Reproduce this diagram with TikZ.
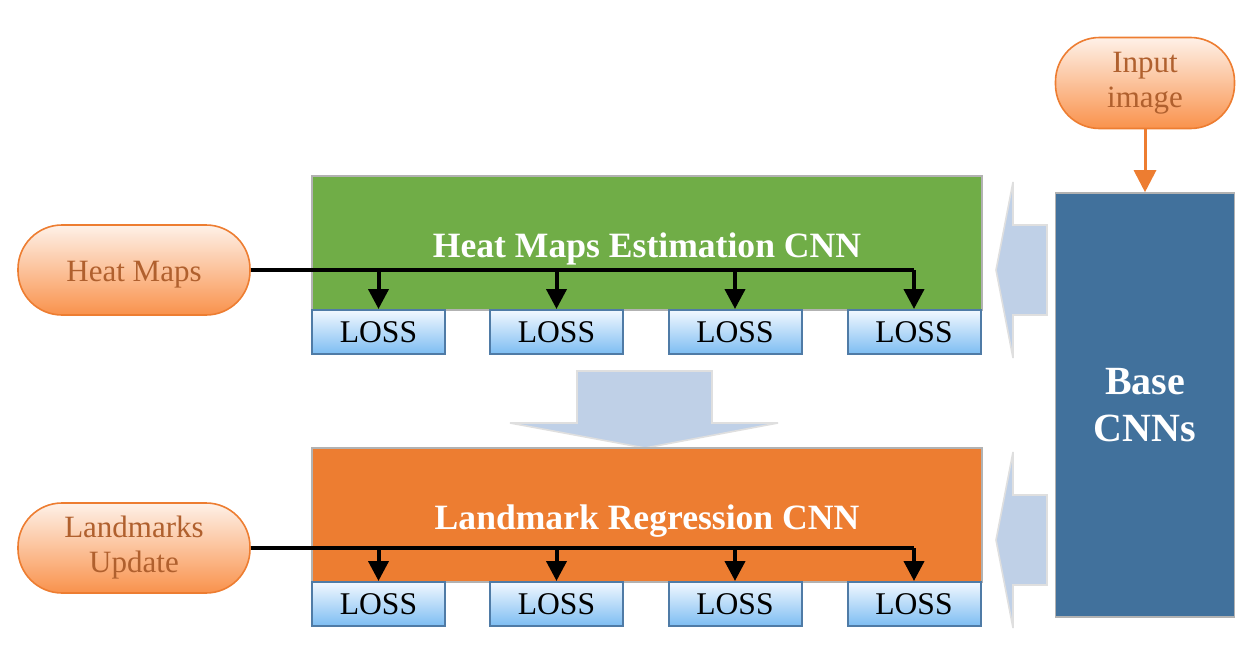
\documentclass[tikz,border=0pt]{standalone}
\usepackage{fontspec}
\setmainfont{Liberation Serif}
\usetikzlibrary{arrows.meta}

\begin{document}
\begin{tikzpicture}[x=0.5pt,y=-0.5pt]

	% Colours
	\definecolor{heatcolor}{HTML}{70AD47}
	\definecolor{regcolor}{HTML}{ED7D31}
	\definecolor{basecolor}{HTML}{41719C}
	\definecolor{losstop}{HTML}{F2F8FF}
	\definecolor{lossbot}{HTML}{7DBDF2}
	\definecolor{lossedge}{HTML}{4F7BA6}
	\definecolor{pilltop}{HTML}{FEF1E8}
	\definecolor{pillbot}{HTML}{F9924C}
	\definecolor{pilltext}{HTML}{B0602E}
	\definecolor{arrowblue}{HTML}{BFD0E7}
	\colorlet{pilledge}{regcolor}

	% Styles
	\tikzstyle{stagebox}=[draw=gray!60, line width=0.8pt, minimum width=335pt, minimum height=67pt,
		inner sep=0pt, text height=14pt, text depth=0pt, text=white,
		font=\fontsize{17.8}{20}\selectfont\bfseries]
	\tikzstyle{lossbox}=[draw=lossedge, line width=1pt, top color=losstop, bottom color=lossbot,
		minimum width=66.5pt, minimum height=22pt, inner sep=0pt, font=\fontsize{15.8}{17}\selectfont]
	\tikzstyle{pill}=[draw=pilledge, line width=0.8pt, top color=pilltop, bottom color=pillbot,
		rounded corners=22pt, minimum width=116pt, minimum height=45pt, align=center,
		text=pilltext, font=\fontsize{15.5}{17.5}\selectfont]
	\tikzstyle{blockarrow}=[fill=arrowblue, draw=gray!25, line width=0.8pt]
	\tikzstyle{bus}=[line width=2pt]
	\tikzstyle{drop}=[line width=2pt, -{Triangle[width=10pt,length=10pt]}]
	\tikzstyle{feed}=[draw=regcolor, line width=1.5pt, -{Triangle[width=11pt,length=11pt]}]

	\useasboundingbox (0,0) rectangle (1248,648);

	% Block arrows
	\draw[blockarrow] (996,270) -- (1013,182) -- (1013,225) -- (1047,225) -- (1047,315)
		-- (1013,315) -- (1013,358) -- cycle;
	\draw[blockarrow] (996,540) -- (1013,452) -- (1013,495) -- (1047,495) -- (1047,585)
		-- (1013,585) -- (1013,628) -- cycle;
	\draw[blockarrow] (577,371) -- (712,371) -- (712,423) -- (778,423) -- (645,448)
		-- (510,423) -- (577,423) -- cycle;

	% Stages
	\node[stagebox, fill=heatcolor] (heat) at (647,243) {Heat Maps Estimation CNN};
	\node[stagebox, fill=regcolor] (reg) at (647,515) {Landmark Regression CNN};

	% Losses
	\foreach \i/\x in {1/378.5, 2/556.5, 3/735, 4/914} {
		\node[lossbox] (hloss\i) at (\x,332) {LOSS};
		\node[lossbox] (rloss\i) at (\x,604) {LOSS};
	}

	% Base network and input
	\node[draw=gray!60, line width=0.8pt, fill=basecolor, minimum width=89.5pt, minimum height=212pt,
		align=center, text=white, font=\fontsize{20}{23.5}\selectfont\bfseries] (base) at (1145,405) {Base\\CNNs};
	\node[pill, minimum width=89.5pt, minimum height=45.5pt] (input) at (1145,83) {Input\\image};
	\draw[feed] (input.south) -- (base.north);

	% Targets
	\node[pill, text height=11pt, text depth=0pt] (heatmaps) at (134,270) {Heat Maps};
	\node[pill] (update) at (134,548) {Landmarks\\Update};

	\draw[bus] (heatmaps.east) -- (heatmaps.east -| hloss4.north);
	\draw[bus] (update.east) -- (update.east -| rloss4.north);
	\foreach \i in {1,...,4} {
		\draw[drop] (heatmaps.east -| hloss\i.north) -- (hloss\i.north);
		\draw[drop] (update.east -| rloss\i.north) -- (rloss\i.north);
	}

\end{tikzpicture}
\end{document}
